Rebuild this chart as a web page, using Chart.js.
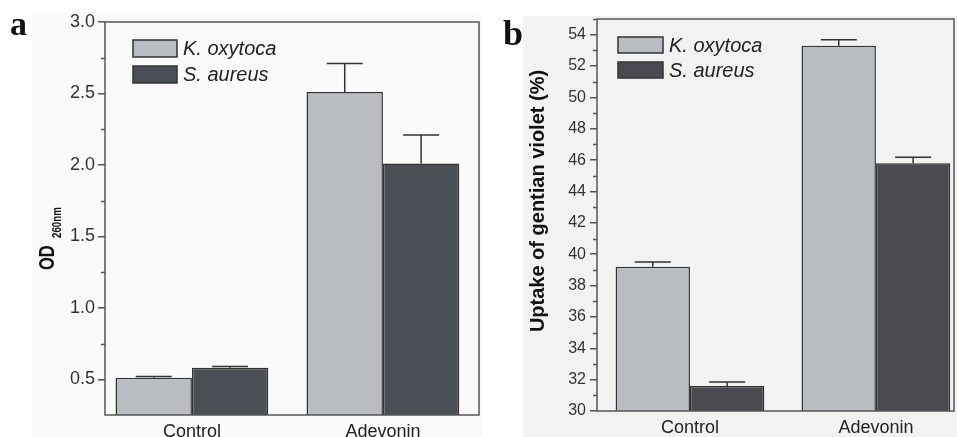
<!DOCTYPE html>
<html>
<head>
<meta charset="utf-8">
<title>OD260nm and gentian violet uptake</title>
<script src="https://cdn.jsdelivr.net/npm/chart.js@4/dist/chart.umd.min.js"></script>
<style>
  html, body { margin: 0; padding: 0; background: #fff; }
  #wrapA { position: absolute; left: 0; top: 0; width: 482px; height: 437px; }
  #wrapB { position: absolute; left: 482px; top: 0; width: 475px; height: 437px; }
</style>
</head>
<body>
<div id="wrapA"><canvas id="chartA"></canvas></div>
<div id="wrapB"><canvas id="chartB"></canvas></div>
<script>
const categories = ['Control', 'Adevonin'];
const seriesNames = ['K. oxytoca', 'S. aureus'];

// panel a - OD260nm
const odKoxytoca = [0.51, 2.51];
const odKoxytocaErr = [0.01, 0.20];
const odSaureus = [0.58, 2.01];
const odSaureusErr = [0.01, 0.20];
const odTicks = [0.5, 1.0, 1.5, 2.0, 2.5, 3.0];
const odMinorTicks = [0.75, 1.25, 1.75, 2.25, 2.75];

// panel b - uptake of gentian violet (%)
const gvKoxytoca = [39.2, 53.3];
const gvKoxytocaErr = [0.30, 0.37];
const gvSaureus = [31.6, 45.8];
const gvSaureusErr = [0.25, 0.38];
const gvTicks = [30, 32, 34, 36, 38, 40, 42, 44, 46, 48, 50, 52, 54];
const gvMinorTicks = [31, 33, 35, 37, 39, 41, 43, 45, 47, 49, 51, 53, 55];

const SANS = '"Liberation Sans", Arial, sans-serif';
const SERIF = '"Liberation Serif", "Times New Roman", serif';
const INK = '#333';

function toPoints(vals) {
    return categories.map((c, i) => ({ x: i, y: vals[i] }));
}

function makeChart(id, cfg) {
    const errs = [cfg.kErr, cfg.sErr];
    const vals = [cfg.k, cfg.s];

    const panelPlugin = {
        id: 'panel' + id,
        beforeDraw(chart) {
            const ctx = chart.ctx;
            ctx.save();
            ctx.fillStyle = '#fff';
            ctx.fillRect(0, 0, chart.width, chart.height);
            ctx.fillStyle = cfg.bg;
            ctx.fillRect(cfg.bgRect[0], cfg.bgRect[1], chart.width - cfg.bgRect[0], chart.height - cfg.bgRect[1]);
            ctx.fillStyle = '#111';
            ctx.font = 'bold ' + cfg.letterSize + 'px ' + SERIF;
            ctx.textBaseline = 'alphabetic';
            ctx.fillText(cfg.letter, cfg.letterPos[0], cfg.letterPos[1]);
            ctx.restore();
        },
        afterDatasetsDraw(chart) {
            const ctx = chart.ctx;
            const area = chart.chartArea;
            const y = chart.scales.y;
            ctx.save();

            // error bars (upper only)
            ctx.strokeStyle = INK;
            ctx.lineWidth = 1.5;
            chart.data.datasets.forEach((ds, i) => {
                chart.getDatasetMeta(i).data.forEach((bar, j) => {
                    const top = y.getPixelForValue(vals[i][j] + errs[i][j]);
                    ctx.beginPath();
                    ctx.moveTo(bar.x, bar.y);
                    ctx.lineTo(bar.x, top);
                    ctx.moveTo(bar.x - 18, top);
                    ctx.lineTo(bar.x + 18, top);
                    ctx.stroke();
                });
            });

            // frame
            ctx.strokeStyle = '#555';
            ctx.lineWidth = 1.5;
            ctx.strokeRect(area.left, area.top, area.right - area.left, area.bottom - area.top);

            // minor ticks
            ctx.beginPath();
            cfg.minor.forEach(v => {
                const py = Math.round(y.getPixelForValue(v)) + 0.5;
                ctx.moveTo(area.left - 4, py);
                ctx.lineTo(area.left, py);
            });
            ctx.stroke();

            // legend
            const lg = cfg.legend;
            chart.data.datasets.forEach((ds, i) => {
                const bx = area.left + lg.dx;
                const by = area.top + lg.dy + i * lg.step;
                ctx.fillStyle = ds.backgroundColor;
                ctx.fillRect(bx, by, lg.w, lg.h);
                ctx.strokeStyle = INK;
                ctx.lineWidth = 1.5;
                ctx.strokeRect(bx, by, lg.w, lg.h);
                ctx.fillStyle = '#222';
                ctx.font = 'italic 20px ' + SANS;
                ctx.textBaseline = 'middle';
                ctx.textAlign = 'left';
                ctx.fillText(ds.label, bx + lg.w + 6, by + lg.h / 2 + 1);
            });

            // y title
            cfg.drawTitle(ctx, area);
            ctx.restore();
        }
    };

    return new Chart(document.getElementById(id), {
        type: 'bar',
        data: {
            datasets: [
                {
                    label: seriesNames[0],
                    data: toPoints(cfg.k),
                    backgroundColor: cfg.colors[0],
                    borderColor: INK,
                    borderWidth: 1.5,
                    borderSkipped: false,
                    categoryPercentage: cfg.catPct,
                    barPercentage: 1.0
                },
                {
                    label: seriesNames[1],
                    data: toPoints(cfg.s),
                    backgroundColor: cfg.colors[1],
                    borderColor: INK,
                    borderWidth: 1.5,
                    borderSkipped: false,
                    categoryPercentage: cfg.catPct,
                    barPercentage: 1.0
                }
            ]
        },
        options: {
            responsive: true,
            maintainAspectRatio: false,
            animation: false,
            layout: { padding: cfg.padding },
            plugins: { legend: { display: false }, tooltip: { enabled: false } },
            scales: {
                x: {
                    type: 'linear',
                    offset: false,
                    bounds: 'data',
                    min: cfg.xRange[0],
                    max: cfg.xRange[1],
                    afterDataLimits: s => { s.min = cfg.xRange[0]; s.max = cfg.xRange[1]; },
                    afterBuildTicks: s => {
                        s.ticks = categories.map((c, i) => ({ value: i }));
                        s.min = cfg.xRange[0];
                        s.max = cfg.xRange[1];
                    },
                    afterFit: s => { s.height = cfg.xHeight; },
                    grid: { display: false, drawTicks: false, offset: false },
                    border: { display: false },
                    ticks: {
                        autoSkip: false,
                        maxRotation: 0,
                        padding: 6,
                        color: '#222',
                        font: { family: SANS, size: 18 },
                        callback: v => categories[v]
                    }
                },
                y: {
                    min: cfg.yRange[0],
                    max: cfg.yRange[1],
                    afterBuildTicks: s => { s.ticks = cfg.ticks.map(v => ({ value: v })); },
                    afterFit: s => { s.width = cfg.yWidth; },
                    grid: { drawOnChartArea: false, drawTicks: true, tickLength: 7, color: '#555', lineWidth: 1.5 },
                    border: { display: false },
                    ticks: {
                        padding: cfg.tickPad,
                        color: INK,
                        font: { family: SANS, size: cfg.tickSize },
                        callback: cfg.fmt
                    }
                }
            }
        },
        plugins: [panelPlugin]
    });
}

makeChart('chartA', {
    k: odKoxytoca, kErr: odKoxytocaErr, s: odSaureus, sErr: odSaureusErr,
    ticks: odTicks, minor: odMinorTicks,
    yRange: [0.25, 3.0], xRange: [-0.455, 1.503],
    colors: ['#b9bdc2', '#4a4f55'],
    catPct: 0.8,
    padding: { top: 22, right: 3, left: 0, bottom: 0 },
    yWidth: 105, xHeight: 22, tickPad: 3, tickSize: 18,
    fmt: v => v.toFixed(1),
    bg: '#fafafa', bgRect: [33, 12],
    letter: 'a', letterSize: 34, letterPos: [10, 35],
    legend: { dx: 28, dy: 18, step: 26, w: 44, h: 17 },
    drawTitle(ctx, area) {
        ctx.fillStyle = '#111';
        ctx.textBaseline = 'alphabetic';
        ctx.textAlign = 'left';
        ctx.save();
        ctx.translate(54, 270);
        ctx.rotate(-Math.PI / 2);
        ctx.scale(0.75, 1);
        ctx.font = 'bold 22px ' + SANS;
        ctx.fillText('OD', 0, 0);
        ctx.restore();
        ctx.save();
        ctx.translate(61, 238);
        ctx.rotate(-Math.PI / 2);
        ctx.scale(0.75, 1);
        ctx.font = 'bold 13px ' + SANS;
        ctx.fillText('260nm', 0, 0);
        ctx.restore();
    }
});

makeChart('chartB', {
    k: gvKoxytoca, kErr: gvKoxytocaErr, s: gvSaureus, sErr: gvSaureusErr,
    ticks: gvTicks, minor: gvMinorTicks,
    yRange: [30, 55], xRange: [-0.5, 1.42],
    colors: ['#b9bcc0', '#4a4b50'],
    catPct: 0.8,
    padding: { top: 19, right: 3, left: 0, bottom: 0 },
    yWidth: 115, xHeight: 26, tickPad: 4, tickSize: 16,
    fmt: v => String(v),
    bg: '#f2f2f2', bgRect: [41, 16],
    letter: 'b', letterSize: 36, letterPos: [21, 45],
    legend: { dx: 21, dy: 18, step: 25, w: 45, h: 16 },
    drawTitle(ctx, area) {
        ctx.fillStyle = '#111';
        ctx.textBaseline = 'alphabetic';
        ctx.textAlign = 'center';
        ctx.translate(62, 201);
        ctx.rotate(-Math.PI / 2);
        ctx.font = 'bold 20px ' + SANS;
        ctx.fillText('Uptake of gentian violet (%)', 0, 0);
    }
});
</script>
</body>
</html>
